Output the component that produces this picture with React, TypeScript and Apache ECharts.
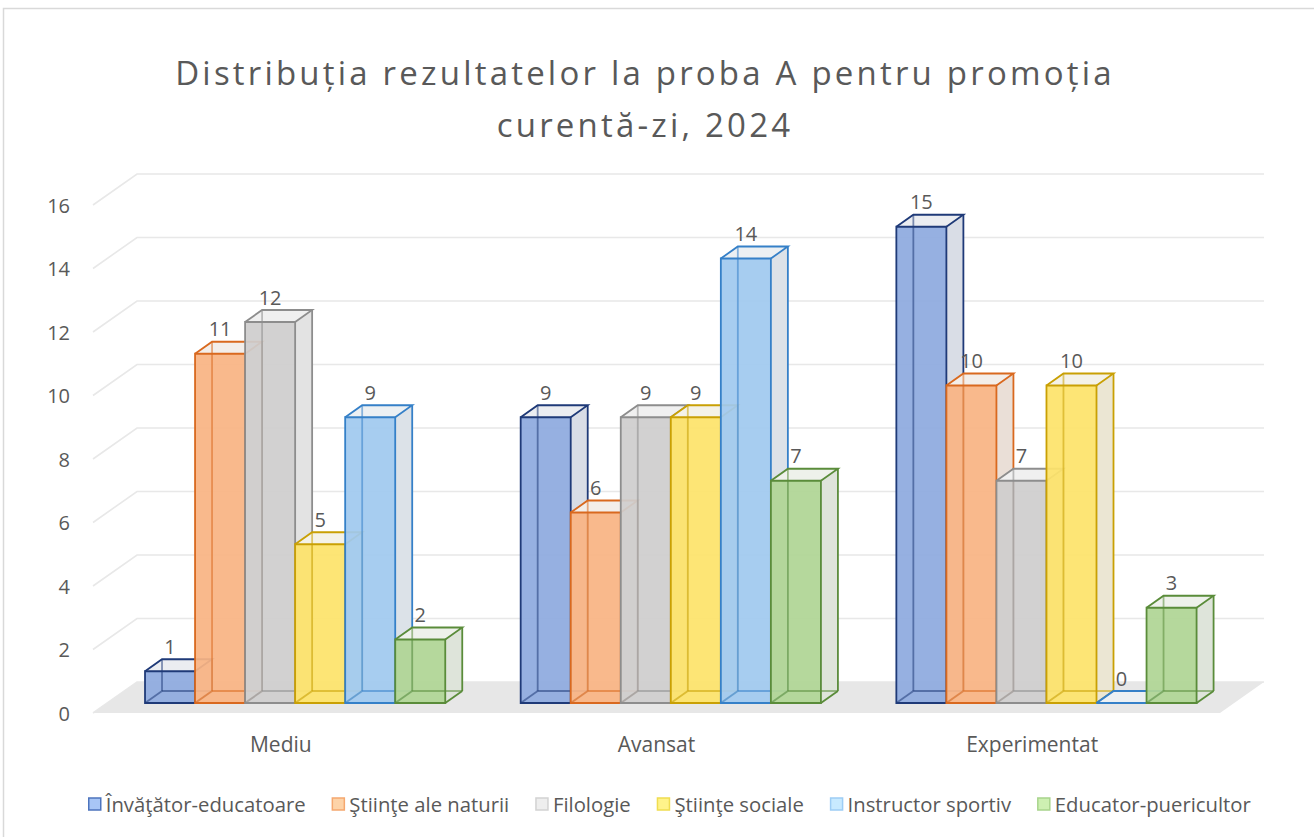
import React, { useEffect, useRef } from 'react';
import * as echarts from 'echarts';

// ---------- data ----------
const categories = ['Mediu', 'Avansat', 'Experimentat'];
const seriesNames = [
  'Învăţător-educatoare',
  'Ştiinţe ale naturii',
  'Filologie',
  'Ştiinţe sociale',
  'Instructor sportiv',
  'Educator-puericultor',
];
const invatatorEducatoare = [1, 9, 15];
const stiinteNaturii = [11, 6, 10];
const filologie = [12, 9, 7];
const stiinteSociale = [5, 9, 10];
const instructorSportiv = [9, 14, 0];
const educatorPuericultor = [2, 7, 3];
const seriesValues = [
  invatatorEducatoare,
  stiinteNaturii,
  filologie,
  stiinteSociale,
  instructorSportiv,
  educatorPuericultor,
];
const yTicks = [0, 2, 4, 6, 8, 10, 12, 14, 16];
const titleLine1 = 'Distribuția rezultatelor la proba A pentru promoția';
const titleLine2 = 'curentă-zi, 2024';

// ---------- style ----------
const FONT = '"Open Sans", "Noto Sans", sans-serif';
const TEXT = '#595959';
const FRONT = ['#8eaadf', '#f9b483', '#cfcdcd', '#fde36b', '#a0c9ef', '#afd594'];
const EDGE = ['#1f3a78', '#d9691f', '#8d8d8d', '#c9a004', '#3580c8', '#5a8c3a'];
const LEG_FILL = ['#a8c6f6', '#fdd3a8', '#eeeeee', '#fff38a', '#c8eaff', '#cdf0b2'];
const LEG_EDGE = ['#4d74bd', '#f5a86f', '#d2d2d2', '#f0dd50', '#9dcdf5', '#a8d48c'];

function mix(c1: string, c2: string, t: number) {
  const a = parseInt(c1.slice(1), 16);
  const b = parseInt(c2.slice(1), 16);
  const ch = (n: number, s: number) => (n >> s) & 255;
  const r = Math.round(ch(a, 16) * t + ch(b, 16) * (1 - t));
  const g = Math.round(ch(a, 8) * t + ch(b, 8) * (1 - t));
  const bl = Math.round(ch(a, 0) * t + ch(b, 0) * (1 - t));
  return `rgb(${r},${g},${bl})`;
}
const SIDE = FRONT.map((c) => mix(c, '#e7e7e7', 0.16));
const TOP = FRONT.map((c) => mix(c, '#f3f3f3', 0.08));

// depth geometry (pixels)
const FLOOR_DX = 44;
const FLOOR_DY = 31;
const BAR_D1X = 14;
const BAR_D1Y = 10;
const BAR_DX = 17;
const BAR_DY = 12;
const GROUP_PAD = 0.1012;
const BAR_FRAC = 0.1332;

export default function App() {
  const ref = useRef<HTMLDivElement>(null);
  useEffect(() => {
    if (!ref.current) return;
    const chart = echarts.init(ref.current, undefined, { renderer: 'svg' });

    const wallSeries: any = {
      type: 'custom',
      silent: true,
      z: 1,
      data: yTicks.map((v) => [0, v]),
      renderItem: (params: any, api: any) => {
        const v = api.value(1);
        const p = api.coord([0, v]);
        const bw = api.size([1, 0])[0];
        const X0 = p[0] - bw / 2;
        const X1 = X0 + bw * categories.length;
        return {
          type: 'polyline',
          shape: {
            points: [
              [X0, p[1]],
              [X0 + FLOOR_DX, p[1] - FLOOR_DY],
              [X1 + FLOOR_DX, p[1] - FLOOR_DY],
            ],
          },
          style: { stroke: '#e8e8e8', lineWidth: 1.6, fill: 'none' },
        };
      },
    };

    const floorSeries: any = {
      type: 'custom',
      silent: true,
      z: 2,
      data: [[0, 0]],
      renderItem: (params: any, api: any) => {
        const p = api.coord([0, 0]);
        const bw = api.size([1, 0])[0];
        const X0 = p[0] - bw / 2;
        const X1 = X0 + bw * categories.length;
        return {
          type: 'polygon',
          shape: {
            points: [
              [X0, p[1]],
              [X1, p[1]],
              [X1 + FLOOR_DX, p[1] - FLOOR_DY],
              [X0 + FLOOR_DX, p[1] - FLOOR_DY],
            ],
          },
          style: { fill: '#e7e7e7' },
        };
      },
    };

    const makeRender = (si: number) => (params: any, api: any) => {
      const cat = api.value(0);
      const v = api.value(1);
      const p0 = api.coord([cat, 0]);
      const p1 = api.coord([cat, v]);
      const bw = api.size([1, 0])[0];
      const w = bw * BAR_FRAC;
      const x0 = p0[0] - bw / 2 + bw * GROUP_PAD + si * w + BAR_D1X;
      const x1 = x0 + w;
      const yb = p0[1] - BAR_D1Y;
      const yt = p1[1] - BAR_D1Y;
      const dx = BAR_DX;
      const dy = BAR_DY;
      const edge = EDGE[si];
      const lw = 1.8;
      const line = (a: number, b: number, c: number, d: number, op = 1) => ({
        type: 'line',
        shape: { x1: a, y1: b, x2: c, y2: d },
        style: { stroke: edge, lineWidth: lw, opacity: op },
      });
      return {
        type: 'group',
        children: [
          {
            type: 'polygon',
            shape: { points: [[x1, yb], [x1 + dx, yb - dy], [x1 + dx, yt - dy], [x1, yt]] },
            style: { fill: SIDE[si] },
          },
          {
            type: 'polygon',
            shape: { points: [[x0, yt], [x1, yt], [x1 + dx, yt - dy], [x0 + dx, yt - dy]] },
            style: { fill: TOP[si] },
          },
          {
            type: 'rect',
            shape: { x: x0, y: yt, width: w, height: yb - yt },
            style: { fill: FRONT[si], opacity: 0.93 },
          },
          line(x0 + dx, yb - dy, x0 + dx, yt - dy, 0.55),
          line(x0 + dx, yb - dy, x1 + dx, yb - dy, 0.55),
          line(x0, yb, x0 + dx, yb - dy, 0.55),
          {
            type: 'rect',
            shape: { x: x0, y: yt, width: w, height: yb - yt },
            style: { fill: 'none', stroke: edge, lineWidth: lw },
          },
          {
            type: 'polyline',
            shape: { points: [[x0, yt], [x0 + dx, yt - dy], [x1 + dx, yt - dy], [x1, yt]] },
            style: { fill: 'none', stroke: edge, lineWidth: lw },
          },
          line(x1 + dx, yt - dy, x1 + dx, yb - dy),
          line(x1, yb, x1 + dx, yb - dy),
          {
            type: 'text',
            x: (x0 + x1) / 2,
            y: yt - dy - 13,
            style: {
              text: String(v),
              fill: TEXT,
              fontSize: 20,
              fontFamily: FONT,
              align: 'center',
              verticalAlign: 'middle',
            },
          },
        ],
      };
    };

    const barSeries = seriesNames.map((name, si) => ({
      type: 'custom',
      name,
      z: 3,
      itemStyle: { color: FRONT[si] },
      data: seriesValues[si].map((v, ci) => [ci, v]),
      renderItem: makeRender(si),
    }));

    chart.setOption({
      animation: false,
      backgroundColor: '#ffffff',
      grid: { left: 93, right: 94, top: 205, bottom: 124 },
      xAxis: {
        type: 'category',
        data: categories,
        axisLine: { show: false },
        axisTick: { show: false },
        splitLine: { show: false },
        axisLabel: { fontSize: 21, color: TEXT, fontFamily: FONT, margin: 20 },
      },
      yAxis: {
        type: 'value',
        min: 0,
        max: 16,
        interval: 2,
        axisLine: { show: false },
        axisTick: { show: false },
        splitLine: { show: false },
        axisLabel: { fontSize: 20, color: TEXT, fontFamily: FONT, margin: 23 },
      },
      legend: {
        left: 83,
        top: 789,
        icon: 'rect',
        itemWidth: 12,
        itemHeight: 12,
        itemGap: 26,
        textStyle: { fontSize: 20.3, color: TEXT, fontFamily: FONT },
        data: seriesNames.map((n, i) => ({
          name: n,
          itemStyle: { color: LEG_FILL[i], borderColor: LEG_EDGE[i], borderWidth: 1.5 },
        })),
      },
      graphic: [
        {
          type: 'rect',
          silent: true,
          shape: { x: 3.5, y: 8.5, width: 1330, height: 850 },
          style: { fill: 'none', stroke: '#d9d9d9', lineWidth: 1.5 },
        },
        {
          type: 'text',
          x: 645,
          y: 72,
          style: {
            text: titleLine1,
            fill: TEXT,
            fontSize: 33,
            fontFamily: FONT,
            align: 'center',
            verticalAlign: 'middle',
          },
        },
        {
          type: 'text',
          x: 645,
          y: 124,
          style: {
            text: titleLine2,
            fill: TEXT,
            fontSize: 33,
            fontFamily: FONT,
            align: 'center',
            verticalAlign: 'middle',
          },
        },
      ],
      series: [wallSeries, floorSeries, ...barSeries],
    });

    // the reference title is set with wide character spacing
    ref.current.querySelectorAll('text').forEach((t) => {
      const s = t.textContent || '';
      if (s === titleLine1 || s === titleLine2) {
        t.setAttribute('letter-spacing', '3.2');
      }
    });

    return () => chart.dispose();
  }, []);
  return (
    <div
      ref={ref}
      style={{ position: 'fixed', left: 0, top: 0, width: 1314, height: 837, background: '#fff' }}
    />
  );
}
